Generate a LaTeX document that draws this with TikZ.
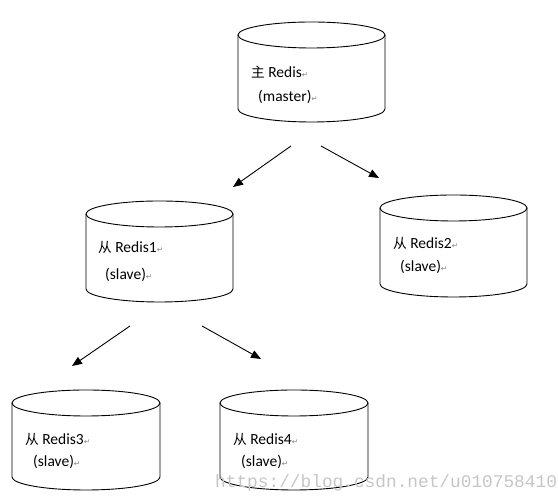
\documentclass[tikz,border=0pt]{standalone}
\usepackage{fontspec}
\setmainfont{Carlito}
\newfontfamily\cjkfont[Scale=0.88]{Noto Sans CJK SC}
\newfontfamily\retfont{DejaVu Sans}
\newfontfamily\wmfont{Liberation Mono}
\usetikzlibrary{arrows.meta}
\newcommand\retmark{{\retfont\fontsize{7.5}{8}\selectfont\color{gray}↵}}
\newcommand\dbcyl[5]{%
  \pgfmathsetmacro\cx{(#2+#3)/2}%
  \pgfmathsetmacro\rx{(#3-#2)/2}%
  \draw[cylline] (\cx,#4-13) ellipse [x radius=\rx, y radius=13];
  \draw[cylline] (#2,#4-13) -- (#2,#5+13) arc[start angle=180,end angle=360,x radius=\rx,y radius=13] -- (#3,#4-13);
  \coordinate (#1) at (\cx,{(#4+#5)/2});
}
\tikzset{
  cylline/.style={line width=0.9pt, black},
  lbl/.style={inner sep=0pt, anchor=west, font=\fontsize{15.5}{17}\selectfont},
  arr/.style={line width=0.9pt, -{Triangle[length=10pt,width=8pt]}},
}
\begin{document}
\begin{tikzpicture}[x=1pt,y=1pt]
\useasboundingbox[fill=white] (0,0) rectangle (558,500);
% cylinders
\dbcyl{master}{238}{385}{478}{378}
\dbcyl{r1}{86}{233}{299}{198}
\dbcyl{r2}{380}{527}{305}{203}
\dbcyl{r3}{12}{160}{110}{10}
\dbcyl{r4}{220}{368}{110}{10}
% labels
\node[lbl] (mt1) at (251,428) {{\cjkfont 主} Redis\retmark};
\node[lbl] (mt2) at (258,403) {(master)\retmark};
\node[lbl] (r1t1) at (98,253) {{\cjkfont 从} Redis1\retmark};
\node[lbl] (r1t2) at (105,225) {(slave)\retmark};
\node[lbl] (r2t1) at (393,257) {{\cjkfont 从} Redis2\retmark};
\node[lbl] (r2t2) at (400,233) {(slave)\retmark};
\node[lbl] (r3t1) at (25,61) {{\cjkfont 从} Redis3\retmark};
\node[lbl] (r3t2) at (33,38) {(slave)\retmark};
\node[lbl] (r4t1) at (233,61) {{\cjkfont 从} Redis4\retmark};
\node[lbl] (r4t2) at (241,38) {(slave)\retmark};
% arrow end points
\coordinate (a1s) at (291,354); \coordinate (a1e) at (233,313);
\coordinate (a2s) at (321,354); \coordinate (a2e) at (379,322);
\coordinate (a3s) at (130,174); \coordinate (a3e) at (72,134);
\coordinate (a4s) at (202,174); \coordinate (a4e) at (261,141);
\draw[arr] (a1s) -- (a1e);
\draw[arr] (a2s) -- (a2e);
\draw[arr] (a3s) -- (a3e);
\draw[arr] (a4s) -- (a4e);
% watermark
\node[inner sep=0pt, anchor=west, text=gray!45, font=\wmfont\fontsize{17.8}{20}\selectfont] (wm) at (215,17) {https://blog.csdn.net/u010758410};
\end{tikzpicture}
\end{document}
